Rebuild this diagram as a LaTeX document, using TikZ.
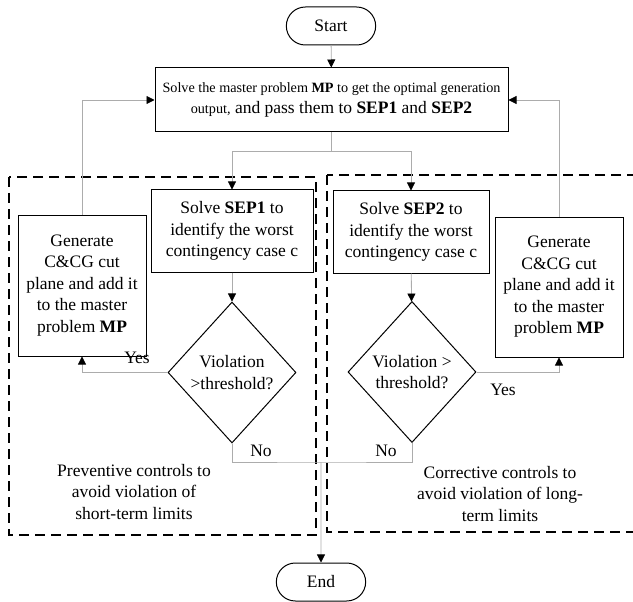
\documentclass[tikz,border=0pt]{standalone}
\usepackage{fontspec}
\setmainfont{Liberation Serif}
\usetikzlibrary{shapes.geometric,shapes.misc,arrows.meta}

\begin{document}
\begin{tikzpicture}[x=1pt, y=-1pt,
  every node/.style={font=\fontsize{17.5}{21.5}\selectfont},
  box/.style={draw, line width=1pt, align=center, inner sep=0pt},
  term/.style={draw, line width=1pt, rounded rectangle, minimum width=96pt, minimum height=38pt},
  test/.style={draw, line width=1pt, diamond, align=center, inner sep=0pt, minimum width=128pt, minimum height=141pt},
  link/.style={draw=gray!65, line width=0.8pt},
  flow/.style={link, -{Triangle[color=black, length=8pt, width=8pt]}},
  zone/.style={line width=1.8pt, dash pattern=on 10pt off 6pt}]
  \newcommand{\smalltxt}{\fontsize{14.2}{21.5}\selectfont}
  \useasboundingbox (0,0) rectangle (633,602);
  \draw[zone] (9,177) rectangle (316,535);
  \draw[zone] (327,175) rectangle (645,532);

  \node[term] (start) at (331,26) {Start};
  \node[box, minimum width=353pt, minimum height=64pt] (mp) at (331.5,100)
    {{\smalltxt Solve the master problem \textbf{MP} to get the optimal generation}\\ {\smalltxt output,} and pass them to \textbf{SEP1} and \textbf{SEP2}};
  \node[box, minimum width=162pt, minimum height=82pt] (sepA) at (232,231) {Solve \textbf{SEP1} to\\identify the worst\\contingency case c};
  \node[box, minimum width=156pt, minimum height=82pt] (sepB) at (411,232) {Solve \textbf{SEP2} to\\identify the worst\\contingency case c};
  \node[box, minimum width=128pt, minimum height=141pt] (genA) at (82,285.5) {Generate\\C\&CG cut\\plane and add it\\to the master\\problem \textbf{MP}};
  \node[box, minimum width=128pt, minimum height=140pt] (genB) at (559,287) {Generate\\C\&CG cut\\plane and add it\\to the master\\problem \textbf{MP}};
  \node[test] (vioA) at (232,372.5) {Violation\\>threshold?};
  \node[test] (vioB) at (412,372) {Violation >\\threshold?};
  \node[term] (stop) at (321,582) {End};

  \node (yesA) at (137,358) {Yes};
  \node (yesB) at (503,390) {Yes};
  \node (noA) at (261,451) {No};
  \node (noB) at (386,451) {No};
  \node[align=center] (prev) at (134,492) {Preventive controls to\\avoid violation of\\short-term limits};
  \node[align=center] (corr) at (500,494) {Corrective controls to\\avoid violation of long-\\term limits};

  \draw[flow] (start) -- (mp);
  \draw[flow] (mp.south) -- ++(0,19) -| (sepA.north);
  \draw[flow] (mp.south) -- ++(0,19) -| (sepB.north);
  \draw[flow] (sepA) -- (vioA);
  \draw[flow] (sepB) -- (vioB);
  \draw[flow] (vioA.west) -| (genA.south);
  \draw[flow] (vioB.east) -| (genB.south);
  \draw[flow] (genA.north) |- (mp.west);
  \draw[flow] (genB.north) |- (mp.east);
  \coordinate (merge) at (321,462);
  \draw[link] (vioA.south) |- (merge) -| (vioB.south);
  \draw[flow] (merge) -- (stop);
\end{tikzpicture}
\end{document}
